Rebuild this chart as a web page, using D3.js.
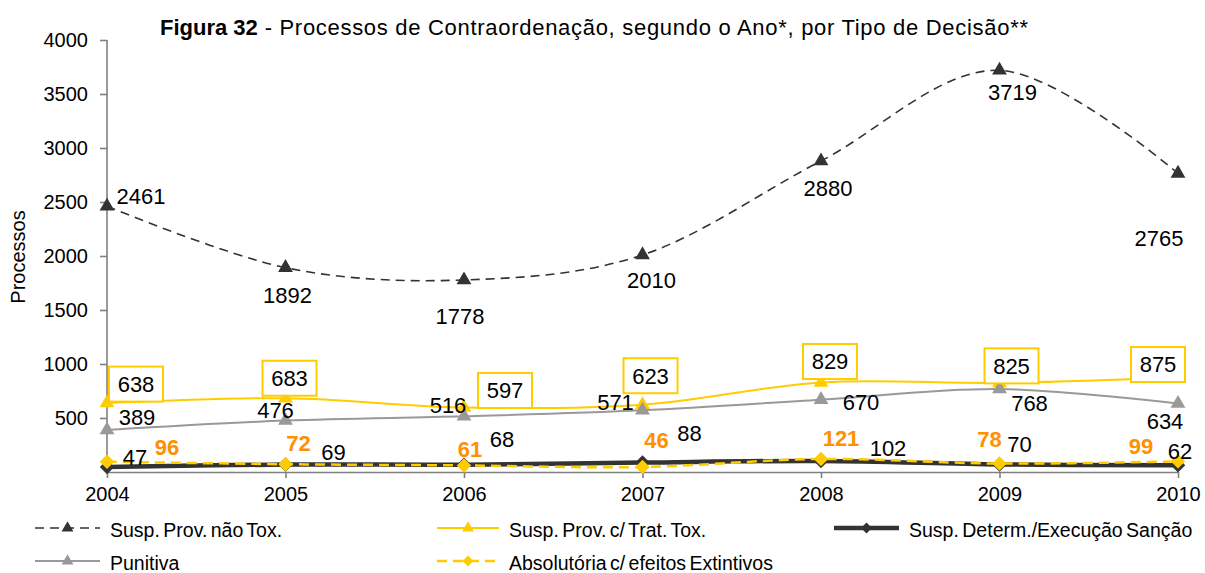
<!DOCTYPE html>
<html>
<head>
<meta charset="utf-8">
<script src="https://cdn.jsdelivr.net/npm/d3@7"></script>
<style>
  html, body { margin: 0; padding: 0; background: #fff; }
  svg { display: block; font-family: "Liberation Sans", Arial, sans-serif; }
</style>
</head>
<body>
<svg id="chart" width="1205" height="573"></svg>
<script>
// ---- data ----
const years = ["2004", "2005", "2006", "2007", "2008", "2009", "2010"];
const suspProvNaoTox = [2461, 1892, 1778, 2010, 2880, 3719, 2765];
const suspProvTratTox = [638, 683, 597, 623, 829, 825, 875];
const suspDetermExec = [47, 69, 68, 88, 102, 70, 62];
const punitiva = [389, 476, 516, 571, 670, 768, 634];
const absolutoria = [96, 72, 61, 46, 121, 78, 99];
const yTickValues = [500, 1000, 1500, 2000, 2500, 3000, 3500, 4000];
const seriesNames = ["Susp. Prov. não Tox.", "Susp. Prov. c/ Trat. Tox.", "Susp. Determ./Execução Sanção", "Punitiva", "Absolutória c/ efeitos Extintivos"];
const titleBold = "Figura 32";
const titleRest = " - Processos de Contraordenação, segundo o Ano*, por Tipo de Decisão**";
const yTitle = "Processos";

// ---- layout / style ----
const svg = d3.select("#chart");
const x = d3.scalePoint().domain(years).range([107, 1178]);
const y = d3.scaleLinear().domain([0, 4000]).range([472, 40]);

const series = [
  { name: seriesNames[0], values: suspProvNaoTox, color: "#333333", width: 1.6, dash: "9,6", marker: "triangle", markerColor: "#333333",
    labelColor: "#000", labelWeight: "normal", box: false,
    off: [[34, -10], [2, 27], [-4, 36], [9, 25], [7, 27], [13, 22], [-19, 65]] },
  { name: seriesNames[1], values: suspProvTratTox, color: "#FFCC00", width: 2, dash: null, marker: "triangle", markerColor: "#FFCC00",
    labelColor: "#000", labelWeight: "normal", box: true,
    off: [[29, -19], [4, -20], [41, -17], [8, -29], [9, -21], [12, -17], [-20, -13]] },
  { name: seriesNames[2], values: suspDetermExec, color: "#333333", width: 4.5, dash: null, marker: "diamond", markerColor: "#333333",
    labelColor: "#000", labelWeight: "normal", box: false,
    off: [[28, -10], [48, -12], [38, -26], [47, -29], [67, -13], [20, -20], [2, -14]] },
  { name: seriesNames[3], values: punitiva, color: "#999999", width: 2, dash: null, marker: "triangle", markerColor: "#999999",
    labelColor: "#000", labelWeight: "normal", box: false,
    off: [[30, -13], [-10, -11], [-16, -11], [-27, -8], [40, 2], [30, 14], [-13, 18]] },
  { name: seriesNames[4], values: absolutoria, color: "#FFCC00", width: 2.5, dash: "10,6", marker: "diamond", markerColor: "#FFCC00",
    labelColor: "#FF9000", labelWeight: "bold", box: false,
    off: [[60, -15], [13, -21], [6, -16], [14, -27], [20, -21], [-10, -24], [-37, -15]] }
];

function markerPath(type) {
  if (type === "triangle") return d3.symbol(d3.symbolTriangle, 95)();
  return d3.symbol(d3.symbolSquare, 105)();
}
function markerTransform(type, px, py) {
  return type === "diamond" ? `translate(${px},${py}) rotate(45)` : `translate(${px},${py})`;
}

// ---- title ----
const tBold = svg.append("text").attr("x", 160).attr("y", 35)
  .attr("font-size", 22).attr("font-weight", "bold").attr("fill", "#000").text(titleBold);
const boldLen = tBold.node().getComputedTextLength();
svg.append("text").attr("x", 160 + boldLen).attr("y", 35)
  .attr("font-size", 22).attr("fill", "#000")
  .attr("textLength", 1028 - 160 - boldLen).attr("lengthAdjust", "spacing")
  .style("white-space", "pre")
  .text(titleRest);

// ---- y axis title ----
svg.append("text")
  .attr("transform", "translate(25,257) rotate(-90)")
  .attr("text-anchor", "middle")
  .attr("font-size", 20)
  .text(yTitle);

// ---- axes ----
const yAxis = svg.append("g").attr("transform", "translate(107,0)")
  .call(d3.axisLeft(y).tickValues(yTickValues).tickFormat(d3.format("d")).tickSize(7).tickSizeOuter(0).tickPadding(12));
const xAxis = svg.append("g").attr("transform", "translate(0,472)")
  .call(d3.axisBottom(x).tickSize(6).tickSizeOuter(0).tickPadding(9));
[yAxis, xAxis].forEach(g => {
  g.selectAll("path, line").attr("stroke", "#808080").attr("stroke-width", 1.6);
  g.selectAll("text").attr("font-size", 20).attr("fill", "#000").attr("font-family", "Liberation Sans, Arial, sans-serif");
});
yAxis.select("path.domain").attr("d", `M0,${y(4000)}V${y(0)}`);

// ---- lines & markers ----
const line = d3.line()
  .x((d, i) => x(years[i]))
  .y(d => y(d))
  .curve(d3.curveCatmullRom.alpha(0));

series.forEach(s => {
  const g = svg.append("g");
  g.append("path").datum(s.values)
    .attr("d", line)
    .attr("fill", "none")
    .attr("stroke", s.color)
    .attr("stroke-width", s.width)
    .attr("stroke-dasharray", s.dash)
    .attr("stroke-linejoin", "round");
  g.selectAll("path.mk").data(s.values).enter().append("path")
    .attr("class", "mk")
    .attr("d", markerPath(s.marker))
    .attr("transform", (d, i) => markerTransform(s.marker, x(years[i]), y(d)))
    .attr("fill", s.markerColor);
});

// ---- labels ----
series.forEach(s => {
  const g = svg.append("g");
  s.values.forEach((v, i) => {
    const cx = x(years[i]) + s.off[i][0];
    const cy = y(v) + s.off[i][1];
    if (s.box) {
      g.append("rect")
        .attr("x", cx - 27).attr("y", cy - 17.5)
        .attr("width", 54).attr("height", 35)
        .attr("fill", "#fff").attr("stroke", "#FFCC00").attr("stroke-width", 2);
    }
    g.append("text")
      .attr("x", cx).attr("y", cy)
      .attr("dy", "0.36em")
      .attr("text-anchor", "middle")
      .attr("font-size", 22)
      .attr("font-weight", s.labelWeight)
      .attr("fill", s.labelColor)
      .text(v);
  });
});

// ---- legend ----
const legendItems = [
  { s: series[0], lx: 35, tx: 110, ly: 528 },
  { s: series[1], lx: 437, tx: 509, ly: 528 },
  { s: series[2], lx: 834, tx: 909, ly: 528 },
  { s: series[3], lx: 35, tx: 110, ly: 561 },
  { s: series[4], lx: 437, tx: 509, ly: 561 }
];
legendItems.forEach(it => {
  const s = it.s;
  const lw = it.tx - it.lx - 10;
  const g = svg.append("g");
  g.append("line")
    .attr("x1", it.lx).attr("x2", it.lx + lw)
    .attr("y1", it.ly).attr("y2", it.ly)
    .attr("stroke", s.color).attr("stroke-width", s.width)
    .attr("stroke-dasharray", s.dash);
  g.append("path")
    .attr("d", markerPath(s.marker))
    .attr("transform", markerTransform(s.marker, it.lx + lw / 2, it.ly) + (s.marker === "diamond" ? " scale(0.75)" : " scale(0.8)"))
    .attr("fill", s.markerColor);
  g.append("text")
    .attr("x", it.tx).attr("y", it.ly + 2)
    .attr("dy", "0.35em")
    .attr("font-size", 19.5)
    .attr("word-spacing", -2)
    .attr("fill", "#000")
    .text(s.name);
});
</script>
</body>
</html>
